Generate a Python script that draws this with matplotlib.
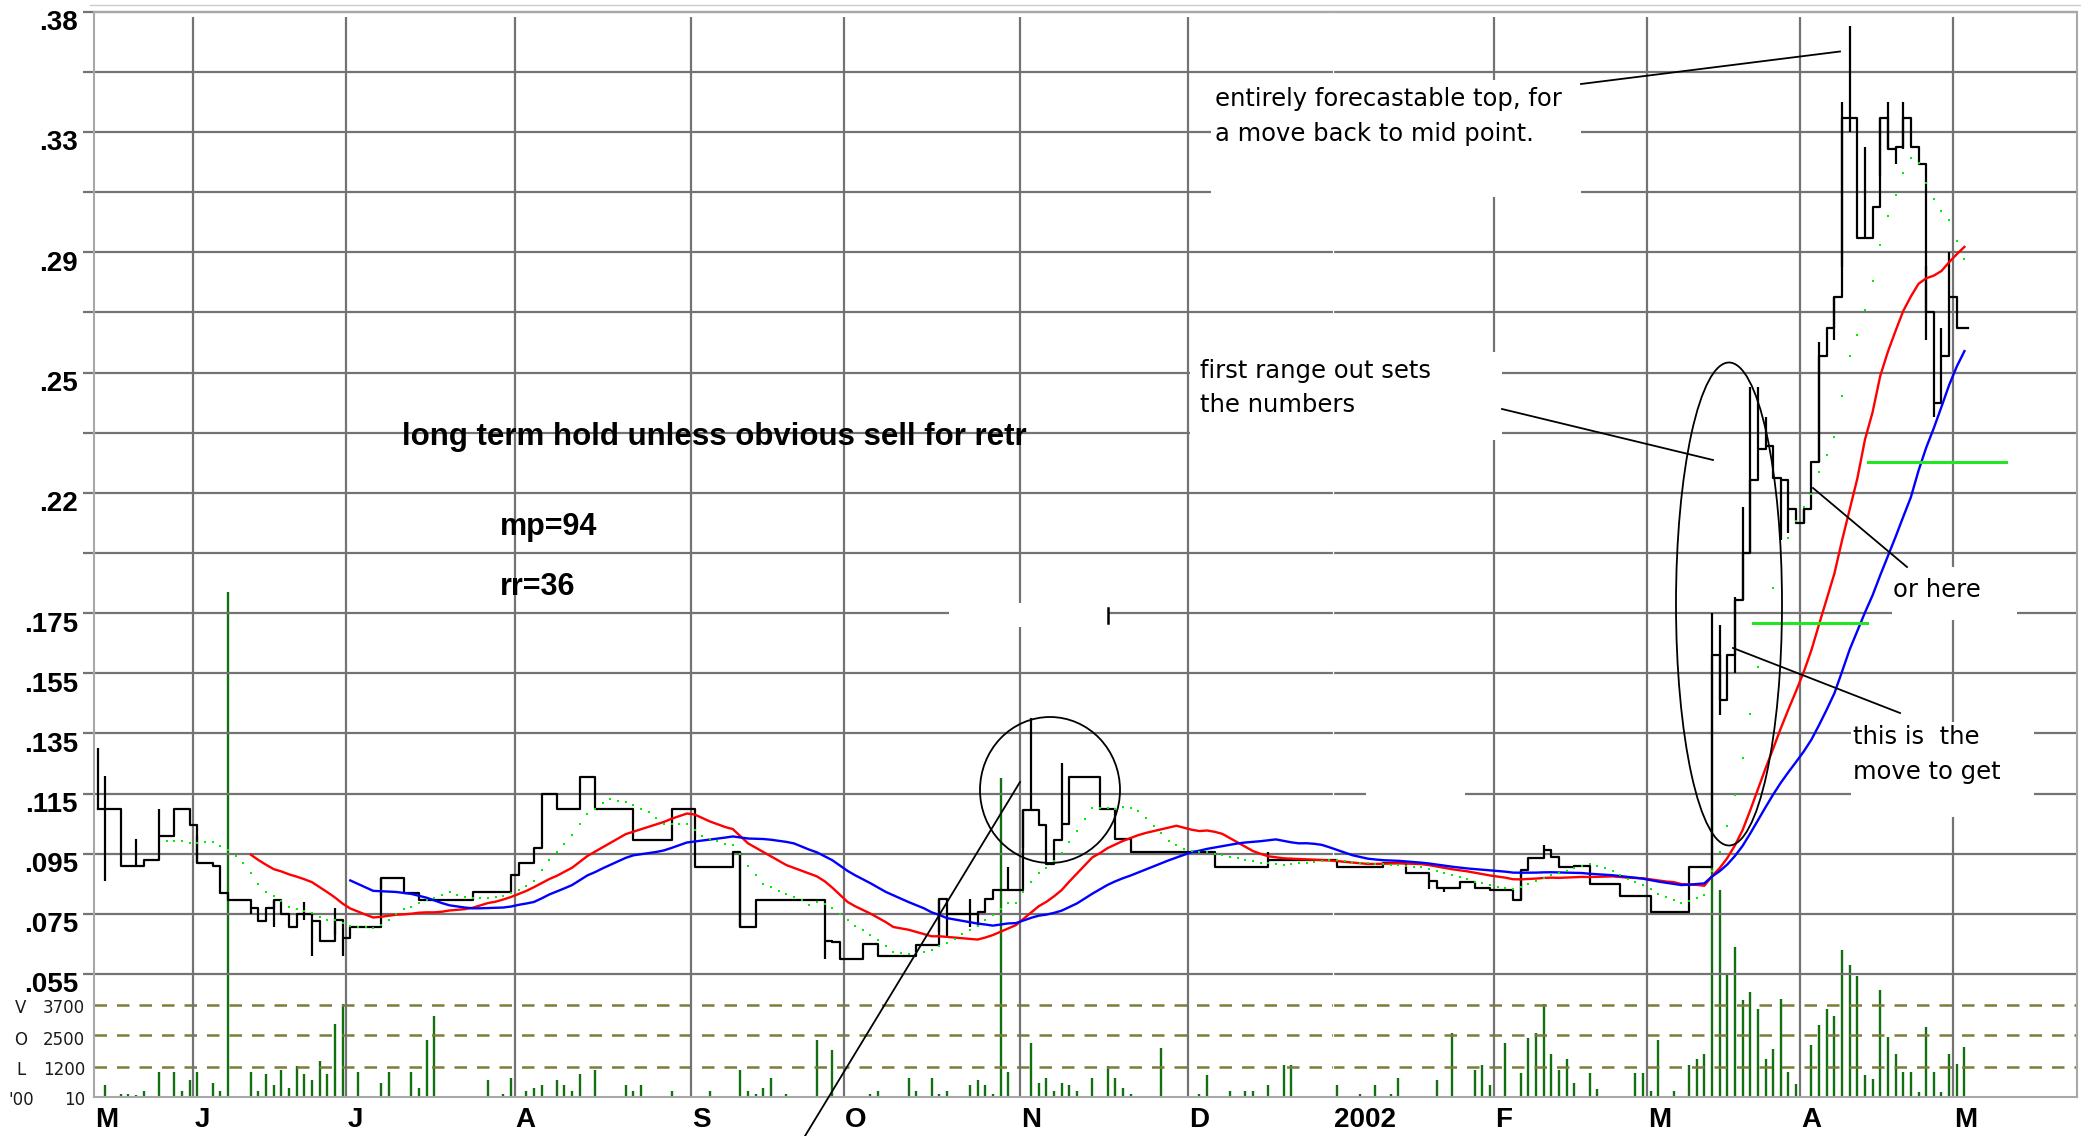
import numpy as np
import pandas as pd
import matplotlib
matplotlib.use("Agg")
import matplotlib.pyplot as plt
from matplotlib import transforms as mtransforms
from matplotlib.patches import Ellipse, Rectangle
from matplotlib.lines import Line2D

# ---------------- data ----------------
# price grid (bottom to top), the scale is not linear above .175
grid_vals = [0.055, 0.075, 0.095, 0.115, 0.135, 0.155, 0.175, 0.1975, 0.22,
             0.235, 0.25, 0.27, 0.29, 0.31, 0.33, 0.355, 0.38]
grid_labels = ['.055', '.075', '.095', '.115', '.135', '.155', '.175', '', '.22',
               '', '.25', '', '.29', '', '.33', '', '.38']

# month boundaries in trading-day index
month_edges = [-0.5, 12.5, 32.5, 54.5, 77.5, 97.5, 120.5, 142.5, 161.5, 182.5, 202.5, 222.5, 242.5]
month_labels = ['M', 'J', 'J', 'A', 'S', 'O', 'N', 'D', '2002', 'F', 'M', 'A', 'M']

# daily close as runs (days, price)
run_days = [3, 3, 2, 2, 2, 1, 2, 1, 1, 3,                      # may-jun
            1, 1, 1, 1, 1, 1, 2, 1, 2, 1, 1,                   # jun
            4, 3, 2, 7, 5, 1, 2, 1, 2, 3, 2, 5, 5, 3,          # jul-aug
            5, 1, 2, 9, 1, 1, 3, 2, 5, 3,                      # sep-oct
            1, 4, 1, 1, 4, 2, 1, 1, 1, 1, 4, 2, 2, 11, 7, 9, 6,  # oct-jan
            3, 3, 1, 3, 2, 2, 3, 1, 1, 2, 1, 1, 2, 2, 4, 4, 5, 3,  # jan-mar
            1, 1, 1, 1, 1, 1, 1, 1, 1, 1, 1, 1, 1, 1, 1, 1, 1, 1, 1,  # mar-apr
            2, 1, 1, 1, 1, 1, 1, 1, 1, 1, 1, 1, 2]
run_price = [.110, .091, .093, .101, .110, .1045, .092, .091, .082, .0795,
             .077, .0725, .077, .0795, .075, .0707, .075, .0725, .066, .073, .067,
             .0707, .0868, .0818, .0795, .0824, .088, .0918, .097, .115, .110, .1205, .110, .0995, .110,
             .0906, .0955, .0706, .0797, .066, .0655, .060, .065, .061, .0645,
             .080, .075, .0755, .080, .083, .1095, .1045, .0917, .0995, .105, .1205, .110, .100, .0955, .0905, .093, .0906,
             .092, .0886, .086, .0835, .0855, .0835, .083, .0797, .0895, .0935, .0962, .094, .0906, .091, .085, .0811, .0756, .0906,
             .161, .146, .161, .180, .1975, .2233, .231, .2316, .2236, .2233, .214, .2086, .214, .2278, .2556, .2648, .2752, .3358, .3358,
             .2946, .3052, .3358, .3244, .325, .3358, .325, .3194, .27, .2424, .2556, .2752, .2648]

# intraday extremes where the bar sticks out of the close steps
hl_bar = [0, 1, 5, 8, 13, 20, 23, 27, 28, 31, 32, 37, 84, 95, 110, 111, 114, 115, 119, 121, 122, 126,
          153, 174, 176, 186, 189, 211, 212, 214, 215, 216, 217, 218, 220, 221, 223, 225, 227, 228, 229,
          231, 233, 234, 235, 236, 239, 240, 241, 242]
hl_high = [.130, .121, .100, .110, .101, np.nan, np.nan, .079, np.nan, .077, np.nan, np.nan, .0955, np.nan,
           np.nan, np.nan, .080, np.nan, .0906, np.nan, .140, .125,
           .0955, np.nan, np.nan, np.nan, .0978, .175, .171, .181, .2148, .2464, .2464, .239, np.nan, np.nan,
           np.nan, .260, np.nan, .3425, .374,
           .325, np.nan, .3425, np.nan, .3425, .2854, np.nan, .2648, .290]
hl_low = [.110, .086, np.nan, np.nan, np.nan, .075, .0707, .073, .061, .068, .061, .081, .0706, .060,
          .069, .067, .0705, .0705, np.nan, .097, np.nan, np.nan,
          np.nan, .0834, .0823, .0797, np.nan, .1095, .141, .155, .180, .1975, np.nan, np.nan, .2024, .205,
          .2086, .2278, .2608, .285, .330,
          np.nan, .3152, np.nan, .3194, .3244, .2608, .239, np.nan, np.nan]

# volume ('00 shares), only days with trades
vol_bar = [1, 3, 4, 5, 6, 8, 10, 11, 12, 13, 15, 16, 17, 18, 20, 21, 22, 23, 24, 25, 26, 27, 28, 29, 30,
           31, 32, 34, 37, 38, 41, 42, 43, 44, 46, 50, 51, 53, 54, 56, 57, 58, 60, 61, 62, 63, 65, 68,
           69, 70, 71, 74, 75, 77,
           80, 84, 85, 86, 87, 88, 90, 94, 96, 98, 100, 101, 102, 106, 107, 108, 109, 110, 111, 114,
           115, 116, 117, 118, 119, 122, 123, 124, 125, 126, 127, 128, 130, 132, 133, 134, 135, 139,
           144, 145, 148, 150, 151, 153, 155, 156, 158, 162, 165, 167, 169, 170, 175, 177, 180, 181,
           182, 184, 186, 187, 188, 189, 190, 191, 192, 193, 195, 196, 201, 202, 203, 204, 206, 208,
           209, 210, 211, 212, 213, 214, 215, 216, 217, 218, 219, 220, 221, 222, 224, 225, 226, 227,
           228, 229, 230, 231, 232, 233, 234, 235, 236, 237, 238, 239, 240, 241, 242, 243, 244]
vol_amt = [470, 130, 130, 70, 240, 1000, 1000, 240, 670, 1000, 560, 240, 20200, 30, 1000, 240, 910, 470,
           1090, 360, 1230, 910, 670, 1430, 910,
           2930, 3730, 1000, 560, 1000, 1000, 360, 2270, 3240, 30, 30, 670, 130, 770, 240, 360, 470, 670,
           470, 240, 910, 1090, 30,
           470, 240, 470, 30, 240, 30,
           240, 1090, 240, 130, 370, 760, 130, 2290, 1870, 30, 30, 130, 240, 760, 240, 30, 760, 130, 240,
           470,
           670, 470, 130, 12750, 1000, 2160, 560, 760, 240, 560, 470, 240, 760, 1230, 760, 360, 130, 1960,
           130, 870, 240, 240, 240, 470, 1270, 1270, 30, 470, 130, 470, 130, 770, 670, 2570, 1090, 1270,
           470, 2160, 970, 2370, 2570, 3710, 1730, 1090, 1510, 560, 970, 330, 970, 970, 240, 2270, 240,
           1270,
           1510, 1730, 11470, 8270, 4870, 6000, 3870, 4200, 3530, 1530, 1930, 3930, 1000, 530, 2070, 2870,
           3530, 3230,
           5890, 5270, 4830, 870, 730, 4290, 2400, 1730, 1000, 1000, 200, 2800, 1000, 200, 1730, 1330, 2000]
vol_lines = [1200, 2500, 3700]

# ---------------- figure ----------------
W, H = 2081, 1136
fig = plt.figure(figsize=(W / 100, H / 100), dpi=100)
L, R, T, B = 94.0, 2077.0, 11.7, 1097.0
rect = [L / W, 1 - B / H, (R - L) / W, (B - T) / H]
ax_vol = fig.add_axes(rect)
ax = fig.add_axes(rect, sharex=ax_vol)
ax.patch.set_visible(False)

close = np.repeat(run_price, run_days)
idx = np.arange(len(close))
x_right = -0.5 + (R - L) / 7.65

# price scale: piecewise linear between grid lines
pos_v = np.concatenate([[0.055 - 0.06], grid_vals, [0.43]])
pos_i = np.concatenate([[-3.0], np.arange(len(grid_vals)), [17.0]])


def fwd(v):
    return np.interp(v, pos_v, pos_i)


def inv(p):
    return np.interp(p, pos_i, pos_v)


ax.set_yscale('function', functions=(fwd, inv))
ax.set_ylim(inv(-(B - 974.0) / 60.14), 0.38)
ax.set_xlim(-0.5, x_right)
ax_vol.set_ylim(0, (B - T) * 40)

grid_c = '#737373'
ax.hlines(grid_vals, -0.5 - 11 / 7.65, x_right, colors=grid_c, lw=1.6, zorder=0.5, clip_on=False)
ax.vlines([e for e, m in zip(month_edges[1:], month_labels[1:]) if m != '2002'],
          inv(-3), 0.378, colors=grid_c, lw=1.6, zorder=0.5)
ax.axvline(month_edges[8], color='white', lw=0.9, zorder=0.8)

# volume
ax_vol.vlines(vol_bar, 0, vol_amt, colors='#127012', lw=1.7, zorder=1)
ax_vol.hlines(vol_lines, -0.5, x_right, colors='#7d7d3a', lw=1.8, linestyles=(0, (5, 4)), zorder=2)


def axf(px, py):
    return (px - L) / (R - L), (B - py) / (B - T)


# white text boxes that cut the grid
for x0, y0, x1, y1 in [(1211, 80, 1581, 197), (1190, 352, 1502, 440), (949, 603, 1108, 627),
                       (1366, 780, 1465, 805), (1892, 567, 2017, 620), (1851, 722, 2034, 817)]:
    ax.add_patch(Rectangle(axf(x0, y1), (x1 - x0) / (R - L), (y1 - y0) / (B - T),
                           transform=ax.transAxes, facecolor='white', edgecolor='none', zorder=1))

# price bars and averages
s = pd.Series(close)
ma_fast = s.rolling(10).mean()
ma_mid = s.rolling(21).mean()
ma_slow = s.rolling(34).mean()

ax.step(np.append(idx, idx[-1] + 0.5), np.append(close, close[-1]), where='post',
        color='black', lw=1.6, zorder=2)
hb = np.array(hl_bar)
hi = np.fmax(np.array(hl_high), close[hb])
lo = np.fmin(np.array(hl_low), close[hb])
ax.vlines(hb, lo, hi, colors='black', lw=1.6, zorder=2)
ax.plot(idx, ma_mid, color='#ff0000', lw=1.7, zorder=2.2)
ax.plot(idx, ma_slow, color='#0000ff', lw=1.7, zorder=2.3)
ax.plot(idx, ma_fast, ls='none', marker='s', ms=2.0, mew=0, color='#00f000', zorder=2.4)

# hand drawn annotations
def seg(p0, p1, **kw):
    (x0, y0), (x1, y1) = axf(*p0), axf(*p1)
    ax.add_line(Line2D([x0, x1], [y0, y1], transform=ax.transAxes, **kw))


blk = dict(color='black', lw=1.3, zorder=3, clip_on=False)
seg((1581, 84), (1840, 51.5), **blk)
seg((1502, 409), (1713, 460), **blk)
seg((1813, 488), (1907, 567), **blk)
seg((1733, 648), (1900, 713), **blk)
seg((805, 1136), (1020, 782), **blk)
seg((1108, 608), (1108, 623), color='black', lw=1.8, zorder=3)
seg((1868, 462), (2006, 462), color='#22e622', lw=2.2, zorder=3)
seg((1753, 623), (1867, 623), color='#22e622', lw=2.2, zorder=3)

for cx, cy, w, h in [(1050, 790, 140, 146), (1729, 604, 106, 483)]:
    ax.add_patch(Ellipse(axf(cx, cy), w / (R - L), h / (B - T), transform=ax.transAxes,
                         fill=False, edgecolor='black', lw=1.3, zorder=3))

bold = dict(family='Liberation Sans', weight='bold', color='black', zorder=4)
reg = dict(family='DejaVu Sans', color='black', zorder=4, fontsize=17.5)
ax.text(*axf(402, 437), 'long term hold unless obvious sell for retr', transform=ax.transAxes,
        ha='left', va='center', fontsize=22.5, **bold)
ax.text(*axf(500, 527), 'mp=94', transform=ax.transAxes, ha='left', va='center', fontsize=22, **bold)
ax.text(*axf(500, 587), 'rr=36', transform=ax.transAxes, ha='left', va='center', fontsize=22, **bold)
for px, py, txt in [(1215, 99, 'entirely forecastable top, for'), (1215, 134, 'a move back to mid point.'),
                    (1200, 371, 'first range out sets'), (1200, 405, 'the numbers'),
                    (1893, 590, 'or here'),
                    (1853, 737, 'this is  the'), (1853, 772, 'move to get')]:
    ax.text(*axf(px, py), txt, transform=ax.transAxes, ha='left', va='center', **reg)

# axis labels
ytr = mtransforms.blended_transform_factory(ax.transAxes, ax.transData) + \
    mtransforms.ScaledTranslation(0, -18.5 / 100, fig.dpi_scale_trans)
for v, lab in zip(grid_vals, grid_labels):
    if lab:
        ax.text(-16 / (R - L), v, lab, transform=ytr, ha='right', va='baseline', fontsize=20, **bold)

xtr = mtransforms.blended_transform_factory(ax.transData, ax.transAxes) + \
    mtransforms.ScaledTranslation(1 / 100, -30 / 100, fig.dpi_scale_trans)
for e, lab in zip(month_edges, month_labels):
    ax.text(e, 0, lab, transform=xtr, ha='left', va='baseline', fontsize=20, **bold)

small = dict(family='DejaVu Sans', fontsize=12, color='#1a1a1a', va='center')
for py, let, num in [(1008, 'V', '3700'), (1040, 'O', '2500'), (1070, 'L', '1200'), (1100, "'00", '10')]:
    fig.text(21 / W, 1 - py / H, let, ha='center', **small)
    fig.text(85 / W, 1 - py / H, num, ha='right', **small)

for a in (ax, ax_vol):
    a.set_xticks([])
    a.set_yticks([])
    a.minorticks_off()
for sp in ax_vol.spines.values():
    sp.set_visible(False)
for sp in ax.spines.values():
    sp.set_color('#a8a8a8')
    sp.set_linewidth(1.5)
fig.add_artist(Line2D([90 / W, 1], [1 - 5 / H, 1 - 5 / H], color='#cccccc', lw=1))

fig.savefig('out.png', dpi=100, facecolor='white')
